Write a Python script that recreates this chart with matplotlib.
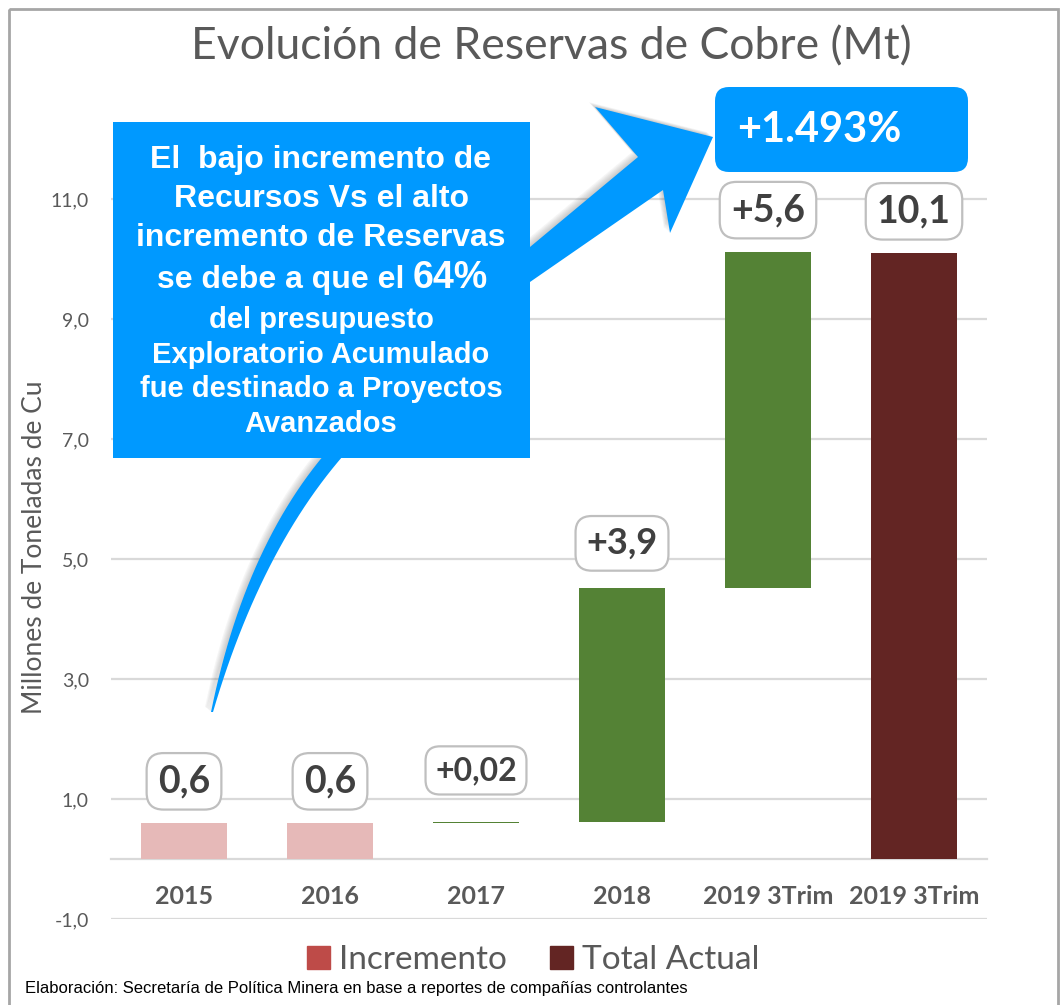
import numpy as np
import matplotlib.pyplot as plt
from matplotlib.patches import Patch, Rectangle, FancyBboxPatch, PathPatch
from matplotlib.path import Path
from matplotlib.transforms import Affine2D

# datos de reservas (Mt de Cu)
years = ['2015', '2016', '2017', '2018', '2019 3Trim', '2019 3Trim']
values = [0.6, 0.6, 0.02, 3.9, 5.6, 10.1]
kinds = ['base', 'base', 'inc', 'inc', 'inc', 'total']
value_labels = ['0,6', '0,6', '+0,02', '+3,9', '+5,6', '10,1']
yticks = [-1, 1, 3, 5, 7, 9, 11]
callout_lines = ['El  bajo incremento de', 'Recursos Vs el alto', 'incremento de Reservas',
                 'se debe a que el', 'del presupuesto', 'Exploratorio Acumulado',
                 'fue destinado a Proyectos', 'Avanzados']
callout_pct = '64%'
growth_label = '+1.493%'

GRAY = '#595959'
GRID = '#D9D9D9'
BLUE = '#0099FF'
colors = {'base': '#E6B9B8', 'inc': '#548235', 'total': '#632523'}

W, H = 1064, 1005
fig = plt.figure(figsize=(W / 100, H / 100), dpi=100)

ax = fig.add_axes([111 / W, 1 - 919 / H, (987 - 111) / W, (919 - 139) / H])
x = np.arange(len(years))

# bases acumuladas para las barras de incremento
bottoms = []
running = values[1]
for v, k in zip(values, kinds):
    if k == 'inc':
        bottoms.append(running)
        running += v
    else:
        bottoms.append(0)

bars = ax.bar(x, values, bottom=bottoms, width=0.59,
              color=[colors[k] for k in kinds], zorder=3)

ax.set_xlim(-0.5, 5.5)
ax.set_ylim(-1, 12)
ax.set_yticks(yticks)
ax.set_yticklabels([f'{t:.1f}'.replace('.', ',') for t in yticks],
                   fontsize=14, color=GRAY, family='Lato')
ax.tick_params(axis='y', length=0, pad=16)
ax.yaxis.grid(True, color=GRID, lw=1.6, zorder=0)
for s in ['top', 'right', 'left']:
    ax.spines[s].set_visible(False)
ax.spines['bottom'].set_position(('data', 0))
ax.spines['bottom'].set_color(GRID)
ax.spines['bottom'].set_linewidth(1.6)
ax.set_xticks(x)
ax.set_xticklabels(years, fontsize=18, fontweight='bold', color=GRAY, family='Lato')
ax.tick_params(axis='x', length=0, pad=19)
ax.set_ylabel('Millones de Toneladas de Cu', fontsize=19, color=GRAY, family='Lato')
ax.yaxis.set_label_coords(-0.073, 0.476)

# etiquetas de valor en cajas redondeadas
label_sizes = [27, 27, 23, 26, 27, 27]
label_offsets = [30, 30, 37, 32, 30, 30]
for b, lab, fs, off in zip(bars, value_labels, label_sizes, label_offsets):
    top = b.get_y() + b.get_height()
    ax.annotate(lab, (b.get_x() + b.get_width() / 2, top), xytext=(0, off),
                textcoords='offset points', ha='center', va='center',
                fontsize=fs, fontweight='bold', color='#404040', family='Lato', zorder=6,
                bbox=dict(boxstyle='round,pad=0.3,rounding_size=0.45', fc='white',
                          ec='#BFBFBF', lw=1.6))

fig.text(551 / W, 1 - 47 / H, 'Evolución de Reservas de Cobre (Mt)', ha='center', va='center',
         fontsize=32, color=GRAY, family='Lato')

leg = fig.legend(handles=[Patch(color='#BE4B48', label='Incremento'),
                          Patch(color='#632523', label='Total Actual')],
                 loc='center', bbox_to_anchor=(533 / W, 1 - 960 / H), ncol=2, frameon=False,
                 handlelength=0.7, handleheight=0.7, handletextpad=0.25,
                 columnspacing=1.3, prop={'family': 'Lato', 'size': 24})
for t in leg.get_texts():
    t.set_color(GRAY)

fig.text(25 / W, 1 - 988 / H,
         'Elaboración: Secretaría de Política Minera en base a reportes de compañías controlantes',
         ha='left', va='center', fontsize=12, color='black', family='Liberation Sans')

# capa superior en pixeles para marco, flecha y recuadros
ov = fig.add_axes([0, 0, 1, 1], zorder=10)
ov.set_xlim(0, W)
ov.set_ylim(H, 0)
ov.axis('off')
ov.patch.set_alpha(0)

ov.add_patch(Rectangle((9, 9), 1049, 1010, fill=False, ec='#A6A6A6', lw=2))


def qbez(p0, p1, p2, n=30):
    t = np.linspace(0, 1, n)[:, None]
    return (1 - t) ** 2 * np.array(p0) + 2 * (1 - t) * t * np.array(p1) + t ** 2 * np.array(p2)


left_edge = qbez((211, 712), (245, 545), (330, 448))
right_edge = qbez((350, 448), (262, 545), (213, 712))
head = np.array([(530, 247), (638, 157), (595, 107), (713, 137), (670, 233),
                 (663, 190), (530, 282)])
pts = np.vstack([left_edge, head, right_edge, left_edge[:1]])
codes = [Path.MOVETO] + [Path.LINETO] * (len(pts) - 2) + [Path.CLOSEPOLY]
arrow = Path(pts, codes)

# sombra difusa hacia arriba a la izquierda
for k in range(1, 7):
    shadow = arrow.transformed(Affine2D().translate(-k, -k * 0.8))
    ov.add_patch(PathPatch(shadow, fc='#606060', ec='none', alpha=0.06, zorder=0.5))
ov.add_patch(PathPatch(arrow, fc=BLUE, ec='none', zorder=1))

ov.add_patch(Rectangle((113, 122), 417, 336, fc=BLUE, ec='none', zorder=2))
line_y = [160, 199, 238, 280, 320, 355, 389, 424]
line_fs = [23, 23, 23, 23, 21, 21, 21, 21]
for s, yy, fs in zip(callout_lines, line_y, line_fs):
    if s == 'se debe a que el':
        ov.text(404, yy, s, ha='right', va='center', fontsize=fs, fontweight='bold',
                color='white', family='Liberation Sans', zorder=3)
        ov.text(413, yy - 2, callout_pct, ha='left', va='center', fontsize=27, fontweight='bold',
                color='white', family='Liberation Sans', zorder=3)
    else:
        ov.text(321, yy, s, ha='center', va='center', fontsize=fs, fontweight='bold',
                color='white', family='Liberation Sans', zorder=3)

ov.add_patch(FancyBboxPatch((715, 87), 253, 85, boxstyle='round,pad=0,rounding_size=14',
                            fc=BLUE, ec='none', zorder=2))
ov.text(737, 130, growth_label, ha='left', va='center', fontsize=30, fontweight='bold',
        color='white', family='Lato', zorder=3)

fig.savefig('out.png', dpi=100)
